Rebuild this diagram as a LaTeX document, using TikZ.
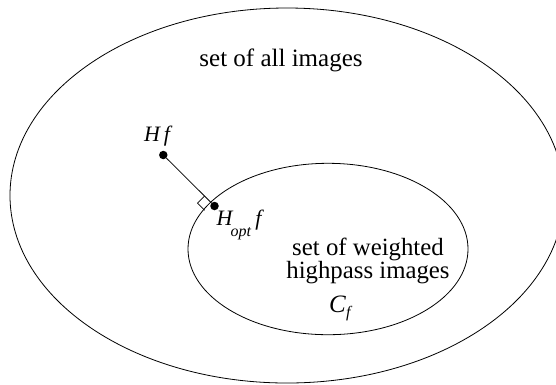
\documentclass[tikz,border=0pt]{standalone}
\usepackage{fontspec}
\setmainfont{Liberation Serif}
\usetikzlibrary{calc}
\begin{document}
\begin{tikzpicture}[x=1pt,y=-1pt,
  setline/.style={line width=0.8pt},
  dotnode/.style={circle,fill=black,inner sep=0pt,minimum size=8.5pt},
  lbl/.style={inner sep=0pt,font=\fontsize{25}{23.3}\selectfont},
  mathlbl/.style={inner sep=0pt,font=\fontsize{22}{22}\selectfont}]
\useasboundingbox (0,0) rectangle (556,384);
\clip (0,0) rectangle (556,384);
% outer set
\draw[setline] (287,195.5) ellipse [x radius=277pt, y radius=187.5pt];
% inner set
\draw[setline] (328,249) ellipse [x radius=140pt, y radius=85.7pt];
% texts
\node[lbl,anchor=base] (all) at (281,66.7) {set of all images};
\node[lbl,align=center,font=\fontsize{24.8}{23.3}\selectfont] (hp) at (368,261) {set of weighted\\highpass images};
\node[inner sep=0pt,anchor=base west,font=\fontsize{25}{25}\selectfont] (cf) at (329,312.7)
  {\textit{C}\raisebox{-5pt}{\fontsize{16}{16}\selectfont\textit{f}}};
% points
\node[dotnode] (hf) at (163.3,155) {};
\node[dotnode] (hopt) at (214.5,206) {};
\node[mathlbl,anchor=base] (hflbl) at (158.3,141) {\textit{H}\hspace{3pt}\textit{f}};
\node[mathlbl,anchor=base west] (hoptlbl) at (216.5,225)
  {\textit{H}\hspace{-3pt}\raisebox{-11pt}{\fontsize{16}{16}\selectfont\textit{opt}}\hspace{4pt}\textit{f}};
% projection line
\draw[setline] (hf) -- (hopt);
% right-angle marker
\coordinate (c) at ($(hopt)!4pt!(hf)$);
\coordinate (ra) at ($(c)!10pt!(hf)$);
\coordinate (rb) at ($(c)!10pt!90:(hf)$);
\draw[line width=0.7pt] (ra) -- ($(ra)+(rb)-(c)$) -- (rb);
\end{tikzpicture}
\end{document}
